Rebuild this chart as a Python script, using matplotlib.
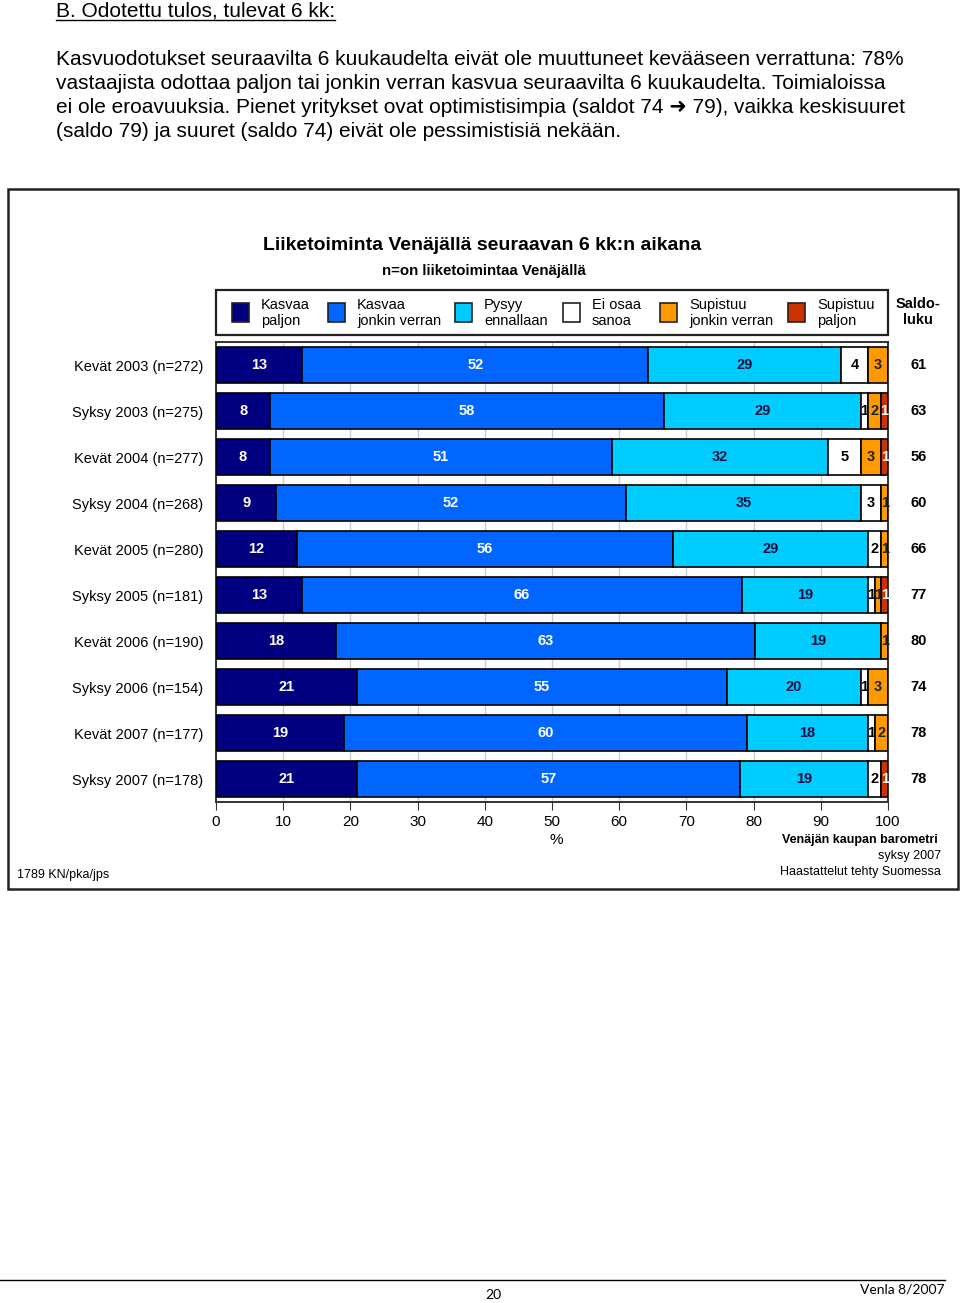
import matplotlib
matplotlib.use("Agg")
import matplotlib.pyplot as plt
from matplotlib.patches import Rectangle
from matplotlib.lines import Line2D
import numpy as np

plt.rcParams['font.family'] = ['Liberation Sans', 'DejaVu Sans']

# data
rows = ["Kevät 2003 (n=272)", "Syksy 2003 (n=275)", "Kevät 2004 (n=277)",
        "Syksy 2004 (n=268)", "Kevät 2005 (n=280)", "Syksy 2005 (n=181)",
        "Kevät 2006 (n=190)", "Syksy 2006 (n=154)", "Kevät 2007 (n=177)",
        "Syksy 2007 (n=178)"]
categories = ["Kasvaa\npaljon", "Kasvaa\njonkin verran", "Pysyy\nennallaan",
              "Ei osaa\nsanoa", "Supistuu\njonkin verran", "Supistuu\npaljon"]
kasvaa_paljon = [13, 8, 8, 9, 12, 13, 18, 21, 19, 21]
kasvaa_jonkin = [52, 58, 51, 52, 56, 66, 63, 55, 60, 57]
pysyy = [29, 29, 32, 35, 29, 19, 19, 20, 18, 19]
ei_osaa = [4, 1, 5, 3, 2, 1, 0, 1, 1, 2]
supistuu_jonkin = [3, 2, 3, 1, 1, 1, 1, 3, 2, 0]
supistuu_paljon = [0, 1, 1, 0, 0, 1, 0, 0, 0, 1]
saldo = [61, 63, 56, 60, 66, 77, 80, 74, 78, 78]
xticks = [0, 10, 20, 30, 40, 50, 60, 70, 80, 90, 100]

colors = ["#000080", "#0066FF", "#00CCFF", "#FFFFFF", "#FF9900", "#CC3300"]
text_colors = ["white", "white", "#101040", "black", "#202020", "white"]

W, H = 960, 1303
fig = plt.figure(figsize=(W / 100, H / 100), dpi=100)


def fx(x):
    return x / W


def fy(y):
    return 1 - y / H


# page text
t = fig.text(fx(56), fy(11), "B. Odotettu tulos, tulevat 6 kk:", fontsize=15,
             va="center", ha="left")
para = ("Kasvuodotukset seuraavilta 6 kuukaudelta eivät ole muuttuneet kevääseen verrattuna: 78%\n"
        "vastaajista odottaa paljon tai jonkin verran kasvua seuraavilta 6 kuukaudelta. Toimialoissa\n"
        "ei ole eroavuuksia. Pienet yritykset ovat optimistisimpia (saldot 74 ➜ 79), vaikka keskisuuret\n"
        "(saldo 79) ja suuret (saldo 74) eivät ole pessimistisiä nekään.")
fig.text(fx(56), fy(50), para, fontsize=15, va="top", ha="left", linespacing=1.33)

# chart frame
fig.add_artist(Rectangle((fx(8), fy(889)), fx(950), 700 / H, transform=fig.transFigure,
                         fill=False, edgecolor="#222222", linewidth=1.8))

fig.text(fx(482), fy(245), "Liiketoiminta Venäjällä seuraavan 6 kk:n aikana",
         fontsize=14, fontweight="bold", ha="center", va="center")
fig.text(fx(484), fy(271), "n=on liiketoimintaa Venäjällä", fontsize=10.8,
         fontweight="bold", ha="center", va="center")

# legend box
fig.add_artist(Rectangle((fx(216), fy(335)), 672 / W, 45 / H, transform=fig.transFigure,
                         fill=False, edgecolor="#222222", linewidth=1.6))
leg_x = [232, 328, 455, 563, 660, 788]
for lx, c, lab in zip(leg_x, colors, categories):
    fig.add_artist(Rectangle((fx(lx), fy(322)), 17 / W, 19 / H, transform=fig.transFigure,
                             facecolor=c, edgecolor="#222222", linewidth=1.2))
    fig.text(fx(lx + 29), fy(313), lab, fontsize=10.5, ha="left", va="center",
             linespacing=1.15)
fig.text(fx(918), fy(312), "Saldo-\nluku", fontsize=10.5, fontweight="bold",
         ha="center", va="center", linespacing=1.15)

# bars
ax = fig.add_axes([fx(216), fy(802), 672 / W, 460 / H])
data = np.array([kasvaa_paljon, kasvaa_jonkin, pysyy, ei_osaa,
                 supistuu_jonkin, supistuu_paljon], dtype=float)
share = data / data.sum(axis=0) * 100
y = np.arange(len(rows))
left = np.zeros(len(rows))
for k in range(len(categories)):
    ax.barh(y, share[k], left=left, height=0.78, color=colors[k],
            edgecolor="black", linewidth=1.2, zorder=3)
    for i in range(len(rows)):
        if data[k, i] > 0:
            ax.text(left[i] + share[k, i] / 2, y[i], "%d" % data[k, i],
                    ha="center", va="center", fontsize=10.5, fontweight="bold",
                    color=text_colors[k], zorder=4)
    left += share[k]

for i in range(len(rows)):
    ax.text(1.045, y[i], str(saldo[i]), transform=ax.get_yaxis_transform(),
            ha="center", va="center", fontsize=10.5, fontweight="bold")

ax.set_xlim(0, 100)
ax.set_ylim(len(rows) - 0.5, -0.5)
ax.set_xticks(xticks)
ax.set_xticklabels([str(v) for v in xticks], fontsize=11)
ax.set_yticks(y)
ax.set_yticklabels(rows, fontsize=10.5)
ax.tick_params(axis="y", length=0, pad=9)
ax.tick_params(axis="x", length=6, pad=3, color="#333333")
ax.grid(axis="x", color="#cccccc", linewidth=1)
ax.set_axisbelow(True)
for s in ax.spines.values():
    s.set_color("#333333")
    s.set_linewidth(1.4)

fig.text(fx(556), fy(840), "%", fontsize=11, ha="center", va="center")
fig.text(fx(938), fy(840), "Venäjän kaupan barometri", fontsize=9, fontweight="bold",
         ha="right", va="center")
fig.text(fx(941), fy(856), "syksy 2007", fontsize=9, ha="right", va="center")
fig.text(fx(941), fy(872), "Haastattelut tehty Suomessa", fontsize=9, ha="right", va="center")
fig.text(fx(17), fy(875), "1789 KN/pka/jps", fontsize=9, ha="left", va="center")

# footer
fig.add_artist(Line2D([0, fx(945)], [fy(1280), fy(1280)], transform=fig.transFigure,
                      color="black", linewidth=1))
fig.text(fx(493), fy(1295), "20", fontsize=10, ha="center", va="center", family="Lato")
fig.text(fx(945), fy(1289), "Venla 8/2007", fontsize=10, ha="right", va="center",
         family="Lato")

# underline heading
fig.canvas.draw()
bb = t.get_window_extent().transformed(fig.transFigure.inverted())
fig.add_artist(Line2D([bb.x0, bb.x1], [bb.y0 + 0.0005, bb.y0 + 0.0005],
                      transform=fig.transFigure, color="black", linewidth=1))

fig.savefig("out.png", dpi=100)
